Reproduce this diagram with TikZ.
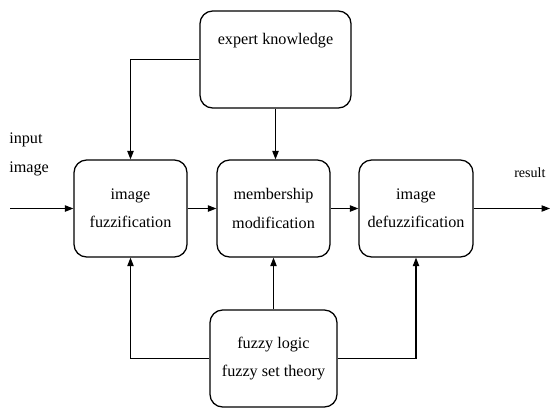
\documentclass[tikz,border=0pt]{standalone}
\usepackage{fontspec}
\setmainfont{Liberation Serif}
\usetikzlibrary{arrows.meta}

\begin{document}
\begin{tikzpicture}[x=0.025cm, y=-0.025cm,
  block/.style={draw, line width=0.9pt, rounded corners=9pt, align=center,
    minimum height=97*0.025cm, font=\fontsize{11.5}{20}\selectfont},
  flow/.style={line width=0.8pt, -{Triangle[length=6pt, width=4.5pt]}},
  wire/.style={line width=0.8pt}]

\useasboundingbox (0,0) rectangle (552,410);

% blocks
\node[block, minimum width=151*0.025cm,
  label={[below=13pt, font=\fontsize{11.5}{20}\selectfont]north:expert knowledge}]
  (expert) at (275.5,59.5) {};
\node[block, minimum width=113*0.025cm] (fuzz) at (130.5,208.5) {image\\fuzzification};
\node[block, minimum width=113*0.025cm] (memb) at (273.5,208.5) {membership\\modification};
\node[block, minimum width=114*0.025cm] (defuzz) at (416,208.5) {image\\defuzzification};
\node[block, minimum width=127*0.025cm] (theory) at (273.5,358.5) {fuzzy logic\\fuzzy set theory};

% free ends
\coordinate (in) at (10,208.5);
\coordinate (out) at (550,208.5);

% labels
\node[align=left, anchor=north west, inner sep=0pt,
  font=\fontsize{11.5}{20}\selectfont] (inlabel) at (9,133) {input\\image};
\node[anchor=west, inner sep=0pt, font=\fontsize{10}{12}\selectfont]
  (outlabel) at (514,173) {result};

% main flow
\draw[flow] (in) -- (fuzz);
\draw[flow] (fuzz) -- (memb);
\draw[flow] (memb) -- (defuzz);
\draw[flow] (defuzz) -- (out);

% expert knowledge
\draw[flow] (expert.west) -| (fuzz.north);
\draw[flow] (expert.south) -- (expert.south |- memb.north);

% fuzzy theory
\draw[flow] (theory.west) -| (fuzz.south);
\draw[flow] (theory.north) -- (theory.north |- memb.south);
\draw[flow] (theory.east) -| (defuzz.south);

\end{tikzpicture}
\end{document}
